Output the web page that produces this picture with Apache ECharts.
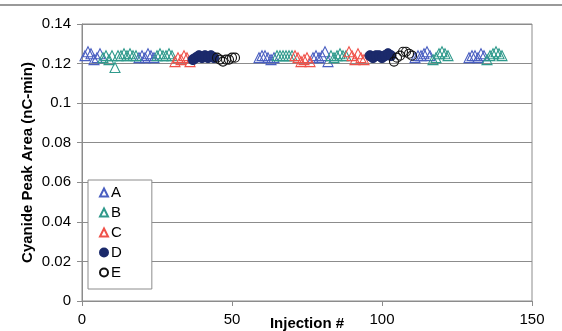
<!DOCTYPE html>
<html>
<head>
<meta charset="utf-8">
<script src="https://cdn.jsdelivr.net/npm/echarts@6/dist/echarts.min.js"></script>
<style>
  html, body { margin: 0; padding: 0; background: #fff; }
  #chart { width: 562px; height: 331px; }
</style>
</head>
<body>
<div id="chart"></div>
<script>
// Injection numbers and cyanide peak areas (nC-min) for each sample set
const injA = [1, 2, 3, 4, 5, 6, 19, 20, 21, 22, 23, 24, 59, 60, 61, 62, 63, 64, 77, 78, 79, 80, 81, 82, 111, 112, 113, 114, 115, 116, 129, 130, 131, 132, 133, 134];
const valA = [0.124, 0.126, 0.125, 0.122, 0.123, 0.125, 0.123, 0.124, 0.123, 0.125, 0.124, 0.123, 0.123, 0.124, 0.124, 0.123, 0.122, 0.123, 0.123, 0.124, 0.123, 0.124, 0.126, 0.121, 0.123, 0.124, 0.124, 0.125, 0.126, 0.124, 0.123, 0.124, 0.124, 0.123, 0.125, 0.124];

const injB = [7, 8, 9, 10, 11, 12, 13, 14, 15, 16, 17, 18, 25, 26, 27, 28, 29, 30, 65, 66, 67, 68, 69, 70, 83, 84, 85, 86, 87, 88, 117, 118, 119, 120, 121, 122, 135, 136, 137, 138, 139, 140];
const valB = [0.123, 0.124, 0.122, 0.124, 0.118, 0.124, 0.124, 0.125, 0.124, 0.125, 0.124, 0.124, 0.124, 0.125, 0.124, 0.124, 0.125, 0.124, 0.124, 0.124, 0.124, 0.124, 0.124, 0.124, 0.124, 0.123, 0.124, 0.125, 0.124, 0.124, 0.122, 0.123, 0.125, 0.126, 0.125, 0.124, 0.122, 0.124, 0.125, 0.126, 0.125, 0.124];

const injC = [31, 32, 33, 34, 35, 36, 71, 72, 73, 74, 75, 76, 89, 90, 91, 92, 93, 94];
const valC = [0.121, 0.123, 0.122, 0.124, 0.123, 0.121, 0.124, 0.123, 0.121, 0.122, 0.123, 0.121, 0.126, 0.124, 0.122, 0.125, 0.123, 0.122];

const injD = [37, 38, 39, 40, 41, 42, 43, 44, 96, 97, 98, 99, 100, 101, 102, 103];
const valD = [0.122, 0.123, 0.124, 0.123, 0.124, 0.123, 0.124, 0.123, 0.124, 0.123, 0.124, 0.124, 0.123, 0.124, 0.125, 0.124];

const injE = [45, 46, 47, 48, 49, 50, 51, 104, 105, 106, 107, 108, 109, 110];
const valE = [0.123, 0.122, 0.121, 0.122, 0.122, 0.123, 0.123, 0.121, 0.123, 0.124, 0.126, 0.126, 0.125, 0.124];

const xTicks = [0, 50, 100, 150];
const yTicks = [0, 0.02, 0.04, 0.06, 0.08, 0.1, 0.12, 0.14];

const pair = (xs, ys) => xs.map((x, i) => [x, ys[i]]);

const FONT = '"Liberation Sans", Arial, sans-serif';

function openSeries(name, xs, ys, symbol, color, size) {
  return {
    name, type: 'scatter', data: pair(xs, ys), symbol, symbolSize: size,
    itemStyle: { color: 'rgba(255,255,255,0)', borderColor: color, borderWidth: 1.1, opacity: 1 }
  };
}

const chart = echarts.init(document.getElementById('chart'), null, { renderer: 'canvas' });
chart.setOption({
  animation: false,
  backgroundColor: '#fff',
  grid: {
    left: 82, right: 30, top: 24, bottom: 30,
    containLabel: false, outerBoundsMode: 'none',
    show: true, borderColor: '#8c8c8c', borderWidth: 1
  },
  graphic: [{
    type: 'line', shape: { x1: 0, y1: 5, x2: 562, y2: 5 },
    style: { stroke: '#777', lineWidth: 1.5 }
  }],
  xAxis: {
    type: 'value', min: xTicks[0], max: xTicks[xTicks.length - 1], interval: 50,
    name: 'Injection #', nameLocation: 'middle', nameGap: 15, nameMoveOverlap: false,
    nameTextStyle: { fontFamily: FONT, fontSize: 15, fontWeight: 'bold', color: '#000' },
    axisLine: { lineStyle: { color: '#8c8c8c', width: 1 } },
    axisTick: { show: true, inside: false, length: 5, lineStyle: { color: '#8c8c8c' } },
    axisLabel: { fontFamily: FONT, fontSize: 15, color: '#000', margin: 11 },
    splitLine: { show: false }
  },
  yAxis: {
    type: 'value', min: yTicks[0], max: yTicks[yTicks.length - 1], interval: 0.02,
    name: 'Cyanide Peak Area (nC-min)', nameLocation: 'middle', nameGap: 47, nameMoveOverlap: false,
    nameTextStyle: { fontFamily: FONT, fontSize: 15, fontWeight: 'bold', color: '#000' },
    axisLine: { show: true, lineStyle: { color: '#8c8c8c', width: 1 } },
    axisTick: { show: true, inside: false, length: 5, lineStyle: { color: '#8c8c8c' } },
    axisLabel: {
      fontFamily: FONT, fontSize: 15, color: '#000', margin: 11,
      formatter: v => String(Math.round(v * 100) / 100)
    },
    splitLine: { show: true, lineStyle: { color: '#8c8c8c', width: 1 } }
  },
  legend: {
    orient: 'vertical', left: 88, top: 180,
    backgroundColor: '#fff', borderColor: '#8c8c8c', borderWidth: 1,
    padding: [5, 30, 9, 11], itemGap: 5, itemWidth: 8, itemHeight: 8,
    textStyle: { fontFamily: FONT, fontSize: 15, color: '#000', padding: [0, 0, 0, -2] },
    data: ['A', 'B', 'C', 'D', 'E']
  },
  series: [
    openSeries('A', injA, valA, 'triangle', '#4a5fc1', 10),
    openSeries('B', injB, valB, 'triangle', '#2f9a8c', 10),
    openSeries('C', injC, valC, 'triangle', '#f0524a', 10),
    {
      name: 'D', type: 'scatter', data: pair(injD, valD), symbol: 'circle', symbolSize: 10,
      itemStyle: { color: '#1b2a6b', borderColor: '#1b2a6b', borderWidth: 1, opacity: 1 }
    },
    openSeries('E', injE, valE, 'circle', '#111', 9)
  ]
});
</script>
</body>
</html>
